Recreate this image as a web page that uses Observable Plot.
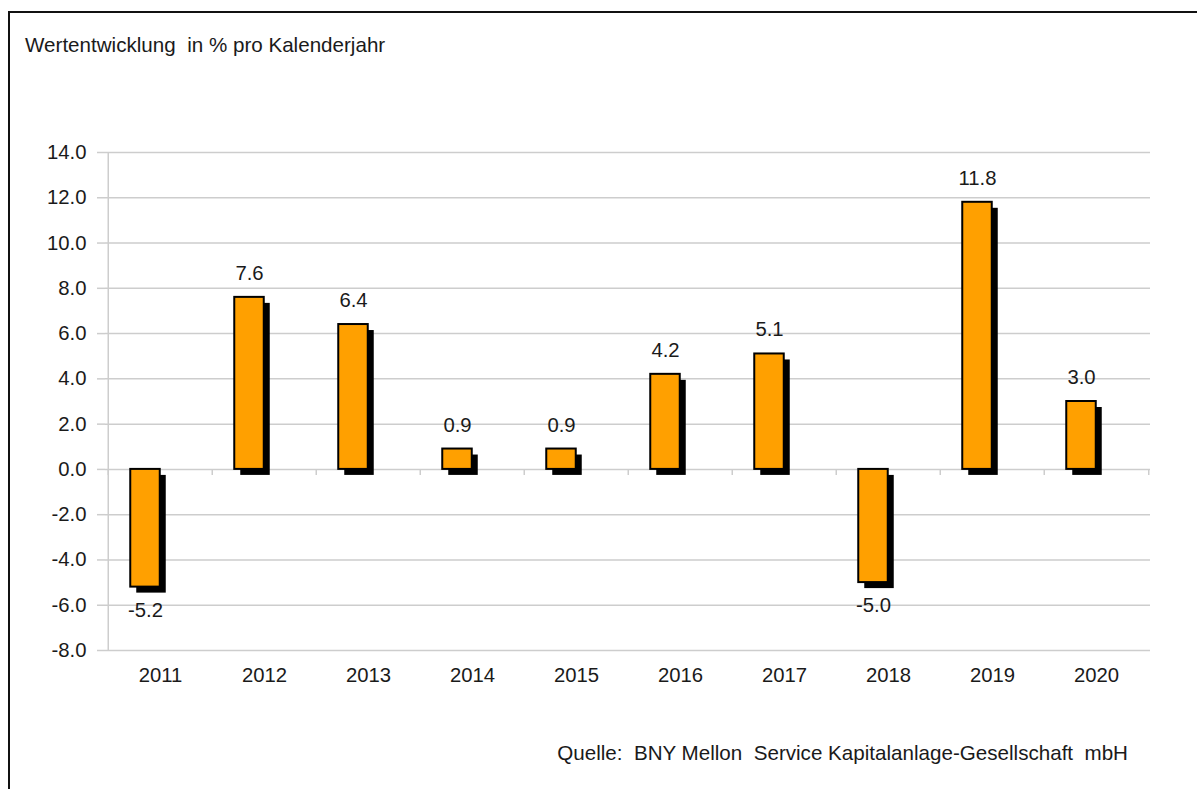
<!DOCTYPE html>
<html>
<head>
<meta charset="utf-8">
<script src="https://cdn.jsdelivr.net/npm/d3@7"></script>
<script src="https://cdn.jsdelivr.net/npm/@observablehq/plot@0.6"></script>
<style>
  html, body { margin: 0; padding: 0; background: #fff; }
  body { width: 1197px; height: 789px; position: relative; overflow: hidden; font-family: "Liberation Sans", Arial, sans-serif; color: #1a1a1a; }
  #frame { position: absolute; left: 8px; top: 11px; width: 1200px; height: 800px; border-left: 2px solid #111; border-top: 2px solid #111; }
  #title { position: absolute; left: 25px; top: 33px; font-size: 20.6px; line-height: 24px; white-space: pre; }
  #chart { position: absolute; left: 0; top: 80px; }
  #caption { position: absolute; right: 69px; top: 741px; font-size: 20.6px; line-height: 24px; white-space: pre; }
</style>
</head>
<body>
<div id="frame"></div>
<div id="title">Wertentwicklung  in % pro Kalenderjahr</div>
<div id="chart"></div>
<div id="caption">Quelle:  BNY Mellon  Service Kapitalanlage-Gesellschaft  mbH</div>
<script>
const years = ["2011","2012","2013","2014","2015","2016","2017","2018","2019","2020"];
const values = [-5.2, 7.6, 6.4, 0.9, 0.9, 4.2, 5.1, -5.0, 11.8, 3.0];
const yTicks = [-8, -6, -4, -2, 0, 2, 4, 6, 8, 10, 12, 14];

const data = years.map((y, i) => ({year: y, value: values[i]}));
const pos = data.filter(d => d.value >= 0);
const neg = data.filter(d => d.value < 0);

const W = 1197, H = 620;
const mL = 105, mR = 47, mT = 72, mB = 50;
const half = (W - mL - mR) / years.length / 2;
const barW = 30;
const inL = half - barW, inR = half;
const grid = "#cdcdcd";
const fmt = d => d.toFixed(1);
const fs = 20.3;

const chart = Plot.plot({
  width: W, height: H,
  marginLeft: mL, marginRight: mR, marginTop: mT, marginBottom: mB,
  style: {fontFamily: "Liberation Sans, Arial, sans-serif", fontSize: fs + "px", color: "#1a1a1a", background: "transparent"},
  x: {type: "band", domain: years, padding: 0, label: null},
  y: {domain: [-8, 14], label: null},
  marks: [
    Plot.gridY(yTicks, {stroke: grid, strokeOpacity: 1, strokeWidth: 1.5}),
    Plot.ruleX([years[0]], {dx: -half, stroke: grid, strokeWidth: 1.5}),
    Plot.ruleX(years, {x: d => d, y1: 0, y2: 0, dx: -half, insetBottom: -6, stroke: grid, strokeWidth: 1.5}),
    Plot.ruleX([years[years.length - 1]], {x: d => d, y1: 0, y2: 0, dx: half, insetBottom: -6, stroke: grid, strokeWidth: 1.5}),
    Plot.axisY(yTicks, {tickFormat: fmt, tickSize: 8, tickPadding: 11, stroke: grid, strokeWidth: 1.5, fill: "#1a1a1a", fontSize: fs, label: null}),
    Plot.axisX({tickSize: 0, tickPadding: 17, fill: "#1a1a1a", fontSize: fs, label: null}),
    // shadows
    Plot.barY(data, {x: "year", y: "value", insetLeft: inL, insetRight: inR, dx: 6, dy: 6, fill: "#000"}),
    // bars
    Plot.barY(data, {x: "year", y: "value", insetLeft: inL, insetRight: inR, fill: "#ffa000", stroke: "#000", strokeWidth: 2}),
    Plot.text(pos, {x: "year", y: "value", text: d => fmt(d.value), dx: -barW / 2, dy: -24, fontSize: fs, fill: "#1a1a1a"}),
    Plot.text(neg, {x: "year", y: "value", text: d => fmt(d.value), dx: -barW / 2, dy: 23, fontSize: fs, fill: "#1a1a1a"})
  ]
});
document.getElementById("chart").appendChild(chart);
</script>
</body>
</html>
